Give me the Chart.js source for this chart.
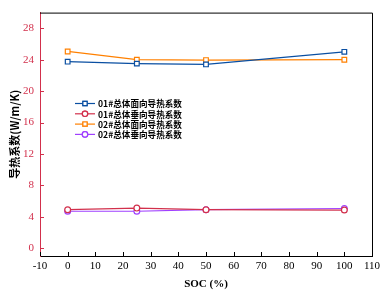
<!DOCTYPE html>
<html>
<head>
<meta charset="utf-8">
<script src="https://cdn.jsdelivr.net/npm/chart.js@4.4.1/dist/chart.umd.min.js"></script>
<style>
  html, body { margin: 0; padding: 0; background: #fff; }
  #wrap { width: 388px; height: 298px; position: relative; }
</style>
</head>
<body>
<div id="wrap"><canvas id="chart"></canvas></div>
<script>
// 数据
const socValues = [0, 25, 50, 100];
const mian01 = [23.75, 23.5, 23.4, 25.0];
const chui01 = [4.9, 5.1, 4.9, 4.85];
const mian02 = [25.05, 24.0, 23.95, 24.0];
const chui02 = [4.7, 4.7, 4.9, 5.05];
const seriesLabels = ['01#总体面向导热系数', '01#总体垂向导热系数', '02#总体面向导热系数', '02#总体垂向导热系数'];
const xTicks = [-10, 0, 10, 20, 30, 40, 50, 60, 70, 80, 90, 100, 110];
const yTicks = [0, 4, 8, 12, 16, 20, 24, 28];

const BLUE = '#0a4fa2';
const RED = '#d2304c';
const ORANGE = '#ff8000';
const PURPLE = '#a040ff';
const AXIS_RED = '#d2304c';
const SERIF = "'Liberation Serif', 'Times New Roman', serif";
const CJK = "'Noto Sans CJK SC', 'Liberation Serif', serif";

function toPoints(ys) {
    return socValues.map((x, i) => ({ x: x, y: ys[i] }));
}

function makeSet(label, data, color, style) {
    return {
        label: label,
        data: toPoints(data),
        borderColor: color,
        backgroundColor: '#fff',
        borderWidth: 1.2,
        pointStyle: style,
        pointRadius: style === 'rect' ? 3.3 : 2.9,
        pointBorderWidth: 1.2,
        pointBorderColor: color,
        pointBackgroundColor: '#fff',
        tension: 0
    };
}

// 内向刻度 + 上/右边框
const frame = {
    id: 'frame',
    afterDraw(chart) {
        const { ctx, chartArea: a, scales } = chart;
        ctx.save();
        ctx.lineWidth = 1;
        ctx.strokeStyle = '#000';
        ctx.beginPath();
        ctx.moveTo(a.left, a.top + 0.5);
        ctx.lineTo(a.right + 0.5, a.top + 0.5);
        ctx.lineTo(a.right + 0.5, a.bottom);
        ctx.stroke();
        // x 刻度
        ctx.beginPath();
        scales.x.ticks.forEach(t => {
            const px = Math.round(scales.x.getPixelForValue(t.value)) + 0.5;
            ctx.moveTo(px, a.bottom);
            ctx.lineTo(px, a.bottom - 4);
        });
        ctx.stroke();
        // y 刻度
        ctx.strokeStyle = AXIS_RED;
        ctx.beginPath();
        scales.y.ticks.forEach(t => {
            const py = Math.round(scales.y.getPixelForValue(t.value)) + 0.5;
            ctx.moveTo(a.left, py);
            ctx.lineTo(a.left + 4, py);
        });
        ctx.stroke();
        ctx.restore();
    }
};

// 图内图例
const innerLegend = {
    id: 'innerLegend',
    afterDatasetsDraw(chart) {
        const ctx = chart.ctx;
        ctx.save();
        chart.data.datasets.forEach((ds, row) => {
            const y = 103.5 + row * 10.3;
            ctx.strokeStyle = ds.borderColor;
            ctx.lineWidth = 1.2;
            ctx.beginPath();
            ctx.moveTo(75, y);
            ctx.lineTo(95, y);
            ctx.stroke();
            ctx.fillStyle = '#fff';
            Chart.helpers.drawPoint(ctx, {
                pointStyle: ds.pointStyle, radius: ds.pointStyle === 'rect' ? 3 : 2.7,
                rotation: 0, borderWidth: 1.2
            }, 85, y);
            ctx.fill();
            ctx.stroke();
            ctx.fillStyle = '#000';
            ctx.font = 'bold 8.6px ' + CJK;
            ctx.textBaseline = 'middle';
            ctx.textAlign = 'left';
            ctx.fillText(ds.label, 98, y + 0.5);
        });
        ctx.restore();
    }
};

function init() {
    new Chart(document.getElementById('chart'), {
        type: 'line',
        data: {
            datasets: [
                makeSet(seriesLabels[0], mian01, BLUE, 'rect'),
                makeSet(seriesLabels[1], chui01, RED, 'circle'),
                makeSet(seriesLabels[2], mian02, ORANGE, 'rect'),
                makeSet(seriesLabels[3], chui02, PURPLE, 'circle')
            ]
        },
        options: {
            responsive: true,
            maintainAspectRatio: false,
            animation: false,
            layout: { padding: { left: 0, top: 9, right: 16, bottom: 0 } },
            plugins: { legend: { display: false }, tooltip: { enabled: false } },
            scales: {
                x: {
                    type: 'linear',
                    min: -10,
                    max: 110,
                    afterBuildTicks: s => { s.ticks = xTicks.map(v => ({ value: v })); },
                    afterFit: s => { s.height = 42; },
                    grid: { display: true, drawOnChartArea: false, drawTicks: false },
                    border: { color: '#000', width: 1 },
                    ticks: { color: '#000', padding: 4, maxRotation: 0, autoSkip: false,
                             font: { family: SERIF, size: 11 } },
                    title: { display: true, text: 'SOC (%)', color: '#000',
                             font: { family: SERIF, size: 11, weight: 'bold' },
                             padding: { top: 0, bottom: 7 } }
                },
                y: {
                    min: -1,
                    max: 30,
                    afterBuildTicks: s => { s.ticks = yTicks.map(v => ({ value: v })); },
                    afterFit: s => { s.width = 40; },
                    grid: { display: true, drawOnChartArea: false, drawTicks: false },
                    border: { color: AXIS_RED, width: 1 },
                    ticks: { color: AXIS_RED, padding: 6, autoSkip: false,
                             font: { family: SERIF, size: 11 } },
                    title: { display: true, text: '导热系数(W/m/K)', color: '#000',
                             font: { family: CJK, size: 11, weight: 'bold' },
                             padding: { top: 8, bottom: 0 } }
                }
            }
        },
        plugins: [frame, innerLegend]
    });
}

window.onload = init;
</script>
</body>
</html>
